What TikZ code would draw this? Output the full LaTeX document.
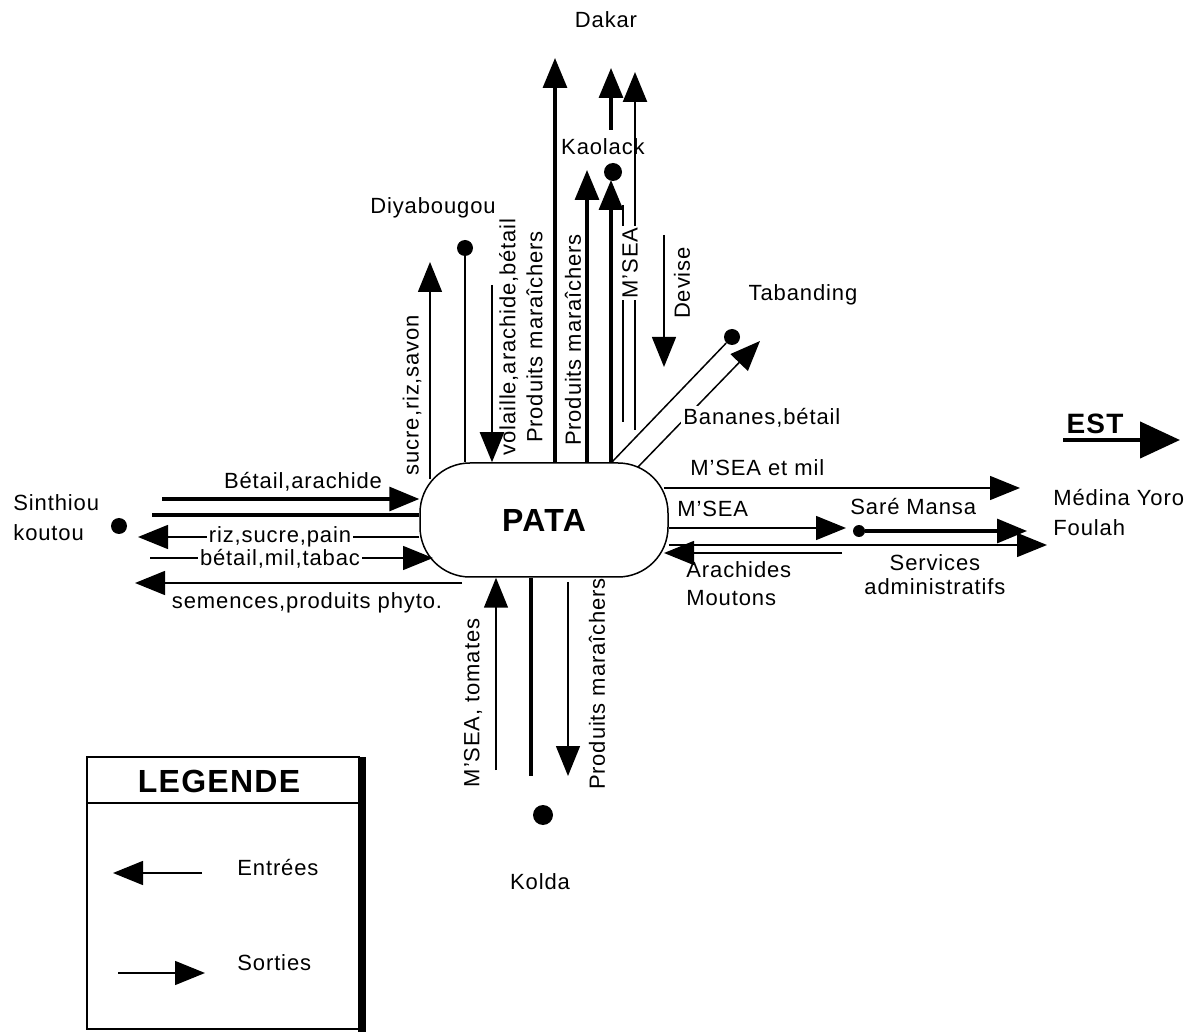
\documentclass[tikz,border=0pt]{standalone}
\usepackage{fontspec}
\setmainfont{Liberation Sans}[LetterSpace=4]
\usetikzlibrary{arrows.meta}

\begin{document}
\begin{tikzpicture}[x=0.5pt,y=-0.5pt,
    every node/.style={font=\fontsize{11}{14}\selectfont,inner sep=1pt},
    fin/.style={line width=0.75pt},
    moyen/.style={line width=1.2pt},
    gros/.style={line width=1.6pt},
    fl/.style={-{Triangle[length=15pt,width=12pt]}},
    lieu/.style={circle,fill=black,inner sep=0pt,minimum size=8pt},
    cache/.style={fill=white,inner sep=1pt}]
\useasboundingbox (0,0) rectangle (1196,1032);

\node[draw,line width=0.75pt,rounded corners=25pt,minimum width=124pt,minimum height=57pt,
      font=\fontsize{16}{18}\selectfont\bfseries] (pata) at (544,520) {PATA};
\node[lieu] (diya) at (465,248) {};
\node[lieu] (taba) at (732,337) {};
\node[lieu,minimum size=6pt] (sare) at (859,531) {};

%                    Nord
\coordinate (a1) at (430,479);  \coordinate (a2) at (430,262);
\coordinate (b1) at (492,285);
\coordinate (dk) at (555,58);
\coordinate (k1) at (587,170);  \coordinate (k2) at (611,180);
\coordinate (k3) at (611,130);  \coordinate (k4) at (611,68);
\coordinate (m1) at (635,430);  \coordinate (m2) at (635,72);
\coordinate (m3) at (623,205);  \coordinate (m4) at (623,422);
\coordinate (d1) at (664,235);  \coordinate (d2) at (664,367);
\coordinate (t1) at (612,462);  \coordinate (t2) at (638,467);
\coordinate (t3) at (760,341);
\draw[fin,fl] (a1) -- (a2);
\draw[fin] (465,0 |- pata.north) -- (diya);
\draw[moyen,fl] (b1) -- (b1 |- pata.north);
\draw[gros,fl] (dk |- pata.north) -- (dk);
\draw[gros,fl] (k1 |- pata.north) -- (k1);
\draw[gros,fl] (k2 |- pata.north) -- (k2);
\draw[gros,fl] (k3) -- (k4);
\draw[moyen,fl] (m1) -- (m2);
\draw[moyen] (m3) -- (m4);
\draw[fin,fl] (d1) -- (d2);
\draw[fin] (t1) -- (taba);
\draw[fin,fl] (t2) -- (t3);

%                    Ouest
\coordinate (o1) at (162,499);
\coordinate (o2) at (152,515);
\coordinate (o3) at (138,537);
\coordinate (o4) at (150,558);  \coordinate (o5) at (433,558);
\coordinate (o6) at (462,583);  \coordinate (o7) at (135,583);
\draw[gros,fl] (o1) -- (pata.west |- o1);
\draw[gros] (o2) -- (pata.west |- o2);
\draw[fin,fl] (pata.west |- o3) -- (o3);
\draw[fin,fl] (o4) -- (o5);
\draw[fin,fl] (o6) -- (o7);

%                    Est
\coordinate (e1) at (664,488);  \coordinate (e2) at (1020,488);
\coordinate (e3) at (846,528);
\coordinate (e4) at (1027,531);
\coordinate (e5) at (1047,545);
\coordinate (e6) at (842,553);  \coordinate (e7) at (664,553);
\coordinate (est1) at (1063,440);  \coordinate (est2) at (1180,440);
\draw[fin,fl] (e1) -- (e2);
\draw[fin,fl] (pata.east |- e3) -- (e3);
\draw[gros,fl] (sare) -- (e4);
\draw[fin,fl] (pata.east |- e5) -- (e5);
\draw[fin,fl] (e6) -- (e7);
\draw[line width=2.2pt,-{Triangle[length=20pt,width=18pt]}] (est1) -- (est2);

%                    Sud
\coordinate (s1) at (496,770);
\coordinate (s2) at (531,776);
\coordinate (s3) at (568,582);  \coordinate (s4) at (568,776);
\draw[fin,fl] (s1) -- (s1 |- pata.south);
\draw[gros] (s2 |- pata.south) -- (s2);
\draw[fin,fl] (s3) -- (s4);

\node[lieu,minimum size=9pt] (kaol) at (613,172) {};
\node[lieu] (sint) at (119,526) {};
\node[lieu,minimum size=10pt] (kold) at (543,815) {};

% villes
\node (ldakar) at (606,20) {Dakar};
\node (lkaol) at (603,147) {Kaolack};
\node (ldiya) at (433,208) {Diyabougou};
\node (ltaba) at (803,295) {Tabanding};
\node[align=left,anchor=west,font=\fontsize{11}{15}\selectfont] (lsint) at (11,518) {Sinthiou\\koutou};
\node (lkold) at (540,882) {Kolda};
\node[anchor=west] (lsare) at (848,507) {Saré Mansa};
\node[align=left,anchor=west,font=\fontsize{11}{15}\selectfont] (lmedi) at (1051,513) {Médina Yoro\\Foulah};
\node[font=\fontsize{14}{16}\selectfont\bfseries] (lest) at (1095,424) {EST};

% produits
\node[rotate=90] (lsucre) at (412,395) {sucre,riz,savon};
\node[rotate=90,align=center,font=\fontsize{11}{13.5}\selectfont] (lvol) at (521,337) {volaille,arachide,bétail\\Produits maraîchers};
\node[rotate=90] (lpm1) at (573,340) {Produits maraîchers};
\node[rotate=90,cache] (lmsea) at (630,263) {M'SEA};
\node[rotate=90] (ldev) at (682,283) {Devise};
\node[anchor=west,cache] (lban) at (681,418) {Bananes,bétail};
\node[anchor=west] (lme) at (688,468) {M'SEA et mil};
\node[anchor=west] (lms) at (675,509) {M'SEA};
\node[align=left,anchor=west] (lam) at (684,584) {Arachides\\Moutons};
\node[align=center,font=\fontsize{11}{12}\selectfont] (lsa) at (935,575) {Services\\administratifs};
\node (lba) at (303,482) {Bétail,arachide};
\node[cache] (lrsp) at (280,537) {riz,sucre,pain};
\node[cache] (lbmt) at (280,559) {bétail,mil,tabac};
\node (lsem) at (307,603) {semences,produits phyto.};
\node[rotate=90] (lmt) at (473,703) {M'SEA, tomates};
\node[rotate=90] (lpm2) at (597,684) {Produits maraîchers};

%                    Legende
\draw[fin] (87,757) rectangle (359,1029);
\fill (358,757) rectangle (366,1032);
\draw[fin] (87,803) -- (359,803);
\node[font=\fontsize{16}{18}\selectfont\bfseries] (leg) at (219,781) {LEGENDE};
\coordinate (g1) at (202,873);  \coordinate (g2) at (113,873);
\coordinate (g3) at (118,973);  \coordinate (g4) at (205,973);
\draw[fin,fl] (g1) -- (g2);
\draw[fin,fl] (g3) -- (g4);
\node[anchor=west] (lent) at (235,868) {Entrées};
\node[anchor=west] (lsor) at (235,963) {Sorties};
\end{tikzpicture}
\end{document}
